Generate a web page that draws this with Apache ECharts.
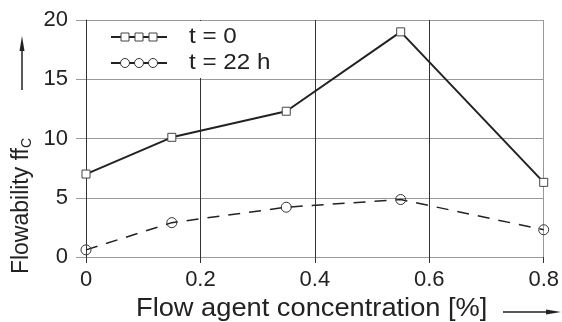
<!DOCTYPE html>
<html><head><meta charset="utf-8">
<script src="https://cdn.jsdelivr.net/npm/echarts@6/dist/echarts.min.js"></script>
<style>html,body{margin:0;padding:0;background:#fff}#c{width:562px;height:322px}</style>
</head><body><div id="c"></div>
<script>
var concentration = [0, 0.15, 0.35, 0.55, 0.8];
var ffcT0 = [7.0, 10.1, 12.3, 19.0, 6.3];
var ffcT22 = [0.6, 2.9, 4.2, 4.85, 2.3];
var seriesNames = ['t = 0', 't = 22 h'];
var xTitle = 'Flow agent concentration [%]';

var FONT = 'Liberation Sans, Arial, sans-serif';
var chart = echarts.init(document.getElementById('c'), null, {renderer: 'canvas'});

function pairs(xs, ys) { return xs.map(function (x, i) { return [x, ys[i]]; }); }

var legendY = [37, 63];
var legendMarkX = [125, 139, 153];
var graphic = [];
// legend background box
graphic.push({type: 'rect', shape: {x: 87, y: 21, width: 196, height: 57}, style: {fill: '#fff'}, z: 99});
// legend row 1
graphic.push({type: 'line', shape: {x1: 111, y1: legendY[0], x2: 167, y2: legendY[0]}, style: {stroke: '#222', lineWidth: 2}, z: 100});
legendMarkX.forEach(function (x) {
  graphic.push({type: 'rect', shape: {x: x - 4, y: legendY[0] - 4, width: 8, height: 8}, style: {fill: '#fff', stroke: '#444', lineWidth: 1}, z: 101});
});
graphic.push({type: 'text', x: 189, y: legendY[0], scaleX: 1.1, style: {text: seriesNames[0], font: '22px ' + FONT, fill: '#222', verticalAlign: 'middle'}, z: 100});
// legend row 2
graphic.push({type: 'line', shape: {x1: 111, y1: legendY[1], x2: 167, y2: legendY[1]}, style: {stroke: '#222', lineWidth: 2}, z: 100});
legendMarkX.forEach(function (x) {
  graphic.push({type: 'circle', shape: {cx: x, cy: legendY[1], r: 4.5}, style: {fill: '#fff', stroke: '#333', lineWidth: 1}, z: 101});
});
graphic.push({type: 'text', x: 189, y: legendY[1], scaleX: 1.1, style: {text: seriesNames[1], font: '22px ' + FONT, fill: '#222', verticalAlign: 'middle'}, z: 100});
// y title
graphic.push({type: 'text', x: 22, y: 206, rotation: Math.PI / 2,
  style: {text: '{m|Flowability ff}{s|C}', rich: {m: {font: '23px ' + FONT, fill: '#222'}, s: {font: '14px ' + FONT, fill: '#222', padding: [10, 0, 0, 0]}}, align: 'center', verticalAlign: 'middle'}});
// y arrow
graphic.push({type: 'line', shape: {x1: 22, y1: 90, x2: 22, y2: 48}, style: {stroke: '#222', lineWidth: 1.5}});
graphic.push({type: 'polygon', shape: {points: [[22, 36], [19.5, 51], [24.5, 51]]}, style: {fill: '#222'}});
// x title
graphic.push({type: 'text', x: 136, y: 309, scaleX: 1.09, style: {text: xTitle, font: '25px ' + FONT, fill: '#222', verticalAlign: 'middle'}});
// x arrow
graphic.push({type: 'line', shape: {x1: 503, y1: 312, x2: 548, y2: 312}, style: {stroke: '#222', lineWidth: 1.5}});
graphic.push({type: 'polygon', shape: {points: [[561, 312], [546, 309.5], [546, 314.5]]}, style: {fill: '#222'}});

chart.setOption({
  animation: false,
  backgroundColor: '#fff',
  grid: {left: 86, right: 13, top: 20, bottom: 65, containLabel: false},
  xAxis: {
    type: 'value', min: 0, max: 0.8, interval: 0.2,
    axisLine: {show: true, onZero: false, lineStyle: {color: '#999', width: 1}},
    axisTick: {show: true, length: 6, lineStyle: {color: '#333', width: 1}},
    axisLabel: {color: '#222', fontSize: 22, fontFamily: FONT, margin: 12,
      formatter: function (v) { return v === 0 ? '0' : String(+v.toFixed(1)); }},
    splitLine: {show: true, lineStyle: {color: ['#333', '#333', '#333', '#333', '#999'], width: 1}}
  },
  yAxis: {
    type: 'value', min: 0, max: 20, interval: 5,
    axisLine: {show: true, onZero: false, lineStyle: {color: '#333', width: 1}},
    axisTick: {show: true, length: 10, lineStyle: {color: '#999', width: 1}},
    axisLabel: {color: '#222', fontSize: 22, fontFamily: FONT, margin: 18},
    splitLine: {show: true, lineStyle: {color: '#999', width: 1}}
  },
  series: [
    {name: seriesNames[0], type: 'line', data: pairs(concentration, ffcT0),
      symbol: 'rect', symbolSize: 8, showAllSymbol: true,
      lineStyle: {color: '#222', width: 2},
      itemStyle: {color: '#fff', borderColor: '#444', borderWidth: 1}, z: 5},
    {name: seriesNames[1], type: 'line', data: pairs(concentration, ffcT22),
      symbol: 'circle', symbolSize: 10, showAllSymbol: true,
      lineStyle: {color: '#222', width: 1.5, type: [12, 9]},
      itemStyle: {color: 'rgba(255,255,255,0)', borderColor: '#333', borderWidth: 1}, z: 5}
  ],
  graphic: graphic
});
</script></body></html>
